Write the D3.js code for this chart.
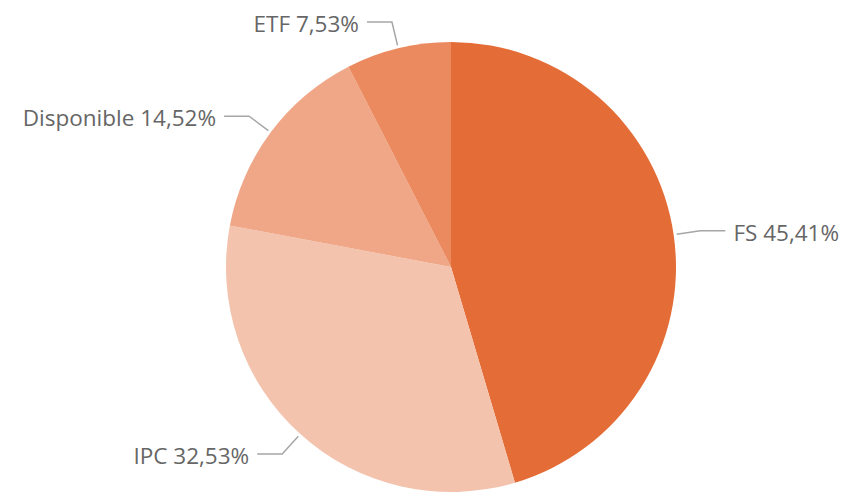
<!DOCTYPE html>
<html>
<head>
<meta charset="utf-8">
<script src="https://cdn.jsdelivr.net/npm/d3@7"></script>
<style>
    body { margin: 0; background: #ffffff; }
    .label { font-family: "Open Sans", "Noto Sans", sans-serif; font-size: 22.5px; fill: #666666; }
    .leader { fill: none; stroke: #A6A6A6; stroke-width: 1.5; }
</style>
</head>
<body>
<svg id="svgPie" width="856" height="495"></svg>
<script>

// Slices in clockwise order from the top
var categories = ["FS", "IPC", "Disponible", "ETF"];
var shares = [45.41, 32.53, 14.52, 7.53];
var colours = ["#E46C37", "#F4C3AE", "#EFA787", "#EB8A5E"];

function pieChart() {
    /*
    Draws the pie chart with elbow leader lines
    */

    var centre = { x: 451, y: 267 };
    var radius = 225;

    var svg = d3.select("#svgPie");

    var chart = svg.append("g")
        .attr("transform", `translate(${centre.x}, ${centre.y})`);

    var data = categories.map(function(name, i) {
        return { name: name, value: shares[i], colour: colours[i] };
    });

    var pie = d3.pie()
        .sort(null)
        .value(function(d) { return d.value; });

    var arc = d3.arc()
        .innerRadius(0)
        .outerRadius(radius);

    var arcs = pie(data);

    // Draw slices
    chart.selectAll(".slice")
        .data(arcs)
        .enter()
        .append("path")
            .attr("class", "slice")
            .attr("d", arc)
            .attr("fill", function(d) { return d.data.colour; });

    // Points for the leader lines
    function mid(d) {
        return (d.startAngle + d.endAngle) / 2;
    }
    function polar(angle, r) {
        return [Math.sin(angle) * r, -Math.cos(angle) * r];
    }

    var lineStart = radius + 3;
    var elbow = radius + 27;
    var tail = 25;
    var gap = 8;

    // Draw leader lines
    chart.selectAll(".leader")
        .data(arcs)
        .enter()
        .append("polyline")
            .attr("class", "leader")
            .attr("points", function(d) {
                var a = mid(d);
                var p0 = polar(a, lineStart);
                var p1 = polar(a, elbow);
                var side = Math.sin(a) >= 0 ? 1 : -1;
                var p2 = [p1[0] + side * tail, p1[1]];
                return [p0, p1, p2].map(function(p) { return p.join(","); }).join(" ");
            });

    // Draw labels
    chart.selectAll(".label")
        .data(arcs)
        .enter()
        .append("text")
            .attr("class", "label")
            .attr("x", function(d) {
                var a = mid(d);
                var side = Math.sin(a) >= 0 ? 1 : -1;
                return polar(a, elbow)[0] + side * (tail + gap);
            })
            .attr("y", function(d) {
                return polar(mid(d), elbow)[1];
            })
            .attr("dy", "0.44em")
            .attr("text-anchor", function(d) {
                return Math.sin(mid(d)) >= 0 ? "start" : "end";
            })
            .text(function(d) {
                return d.data.name + " " + d.data.value.toFixed(2).replace(".", ",") + "%";
            });
};

pieChart();
</script>
</body>
</html>
